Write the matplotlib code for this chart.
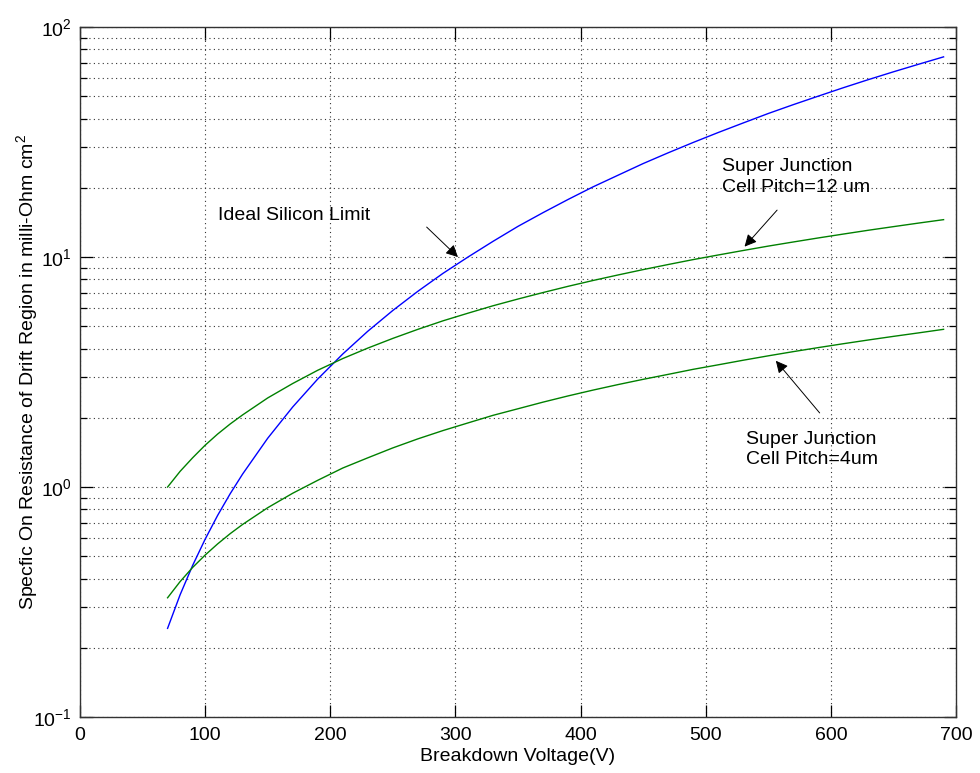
import matplotlib
matplotlib.use("Agg")
import matplotlib.pyplot as plt
from matplotlib.ticker import LogLocator, NullFormatter, MultipleLocator

plt.rcParams['font.family'] = ['Liberation Sans', 'DejaVu Sans']
plt.rcParams['mathtext.fontset'] = 'custom'
plt.rcParams['mathtext.rm'] = 'Liberation Sans'
plt.rcParams['mathtext.it'] = 'Liberation Sans'

# breakdown voltage (V)
voltage = [70, 80, 90, 100, 110, 120, 130, 150, 170, 190, 210, 230, 250, 270, 290, 310, 330, 350, 370,
           390, 410, 430, 450, 470, 490, 510, 530, 550, 570, 590, 610, 630, 650, 670, 690]

# specific on-resistance, milli-Ohm cm^2
ideal_si = [0.243, 0.340, 0.456, 0.593, 0.753, 0.935, 1.14, 1.63, 2.23, 2.95, 3.79, 4.76,
            5.86, 7.10, 8.49, 10.0, 11.7, 13.6, 15.6, 17.8, 20.2, 22.7, 25.5, 28.4,
            31.5, 34.8, 38.3, 42.1, 46.0, 50.1, 54.5, 59.1, 63.9, 68.9, 74.2]
sj_12um = [1.00, 1.17, 1.34, 1.52, 1.70, 1.88, 2.06, 2.44, 2.82, 3.22, 3.62, 4.02, 4.43,
           4.85, 5.28, 5.70, 6.14, 6.57, 7.01, 7.46, 7.91, 8.36, 8.82, 9.28, 9.75,
           10.21, 10.68, 11.16, 11.63, 12.11, 12.59, 13.08, 13.56, 14.05, 14.54]
sj_4um = [0.33, 0.388, 0.447, 0.506, 0.566, 0.627, 0.688, 0.813, 0.94, 1.07, 1.21, 1.34,
          1.48, 1.62, 1.76, 1.90, 2.05, 2.19, 2.34, 2.49, 2.64, 2.79, 2.94, 3.09,
          3.25, 3.40, 3.56, 3.72, 3.88, 4.04, 4.20, 4.36, 4.52, 4.68, 4.85]

fig = plt.figure(figsize=(9.8, 7.73), dpi=100)
ax = fig.add_axes([0.0816, 0.0724, 0.894, 0.8926])

ax.semilogy(voltage, ideal_si, color='#0000ff', lw=1.0)
ax.semilogy(voltage, sj_12um, color='#008000', lw=1.0)
ax.semilogy(voltage, sj_4um, color='#008000', lw=1.0)

ax.set_xlim(0, 700)
ax.set_ylim(0.1, 100)
ax.xaxis.set_major_locator(MultipleLocator(100))
ax.yaxis.set_major_locator(LogLocator(base=10))
ax.yaxis.set_minor_locator(LogLocator(base=10, subs=range(2, 10)))
ax.yaxis.set_minor_formatter(NullFormatter())

dots = (0, (1, 3))
ax.grid(True, which='major', axis='both', color='0.2', linestyle=dots, lw=0.8)
ax.grid(True, which='minor', axis='y', color='0.2', linestyle=dots, lw=0.8)

ax.tick_params(which='both', direction='in', top=True, right=True, labelsize=14)
ax.tick_params(which='major', length=9, width=0.9)
ax.tick_params(which='minor', length=5, width=0.9)
ax.tick_params(axis='x', pad=7)
ax.tick_params(axis='y', pad=6)
for s in ax.spines.values():
    s.set_linewidth(1.0)
    s.set_color('0.2')

ax.set_xlabel('Breakdown Voltage(V)', fontsize=14, labelpad=3)
ax.set_ylabel('Specfic On Resistance of Drift Region in milli-Ohm cm$^2$', fontsize=14,
              labelpad=-5)

arrow = dict(arrowstyle='-|>', color='black', lw=0.7, mutation_scale=18, shrinkA=0, shrinkB=0)
ax.annotate('', xy=(302, 10.0), xytext=(277, 13.5), arrowprops=arrow)
ax.annotate('', xy=(531, 11.1), xytext=(557, 16.0), arrowprops=arrow)
ax.annotate('', xy=(556, 3.54), xytext=(591, 2.10), arrowprops=arrow)

ax.text(110, 15.2, 'Ideal Silicon Limit', fontsize=14, ha='left', va='center')
ax.text(513, 22.3, 'Super Junction\nCell Pitch=12 um', fontsize=14, ha='left', va='center',
        linespacing=1.25)
ax.text(532, 1.456, 'Super Junction\nCell Pitch=4um', fontsize=14, ha='left', va='center',
        linespacing=1.25)

fig.savefig('out.png', dpi=100)
